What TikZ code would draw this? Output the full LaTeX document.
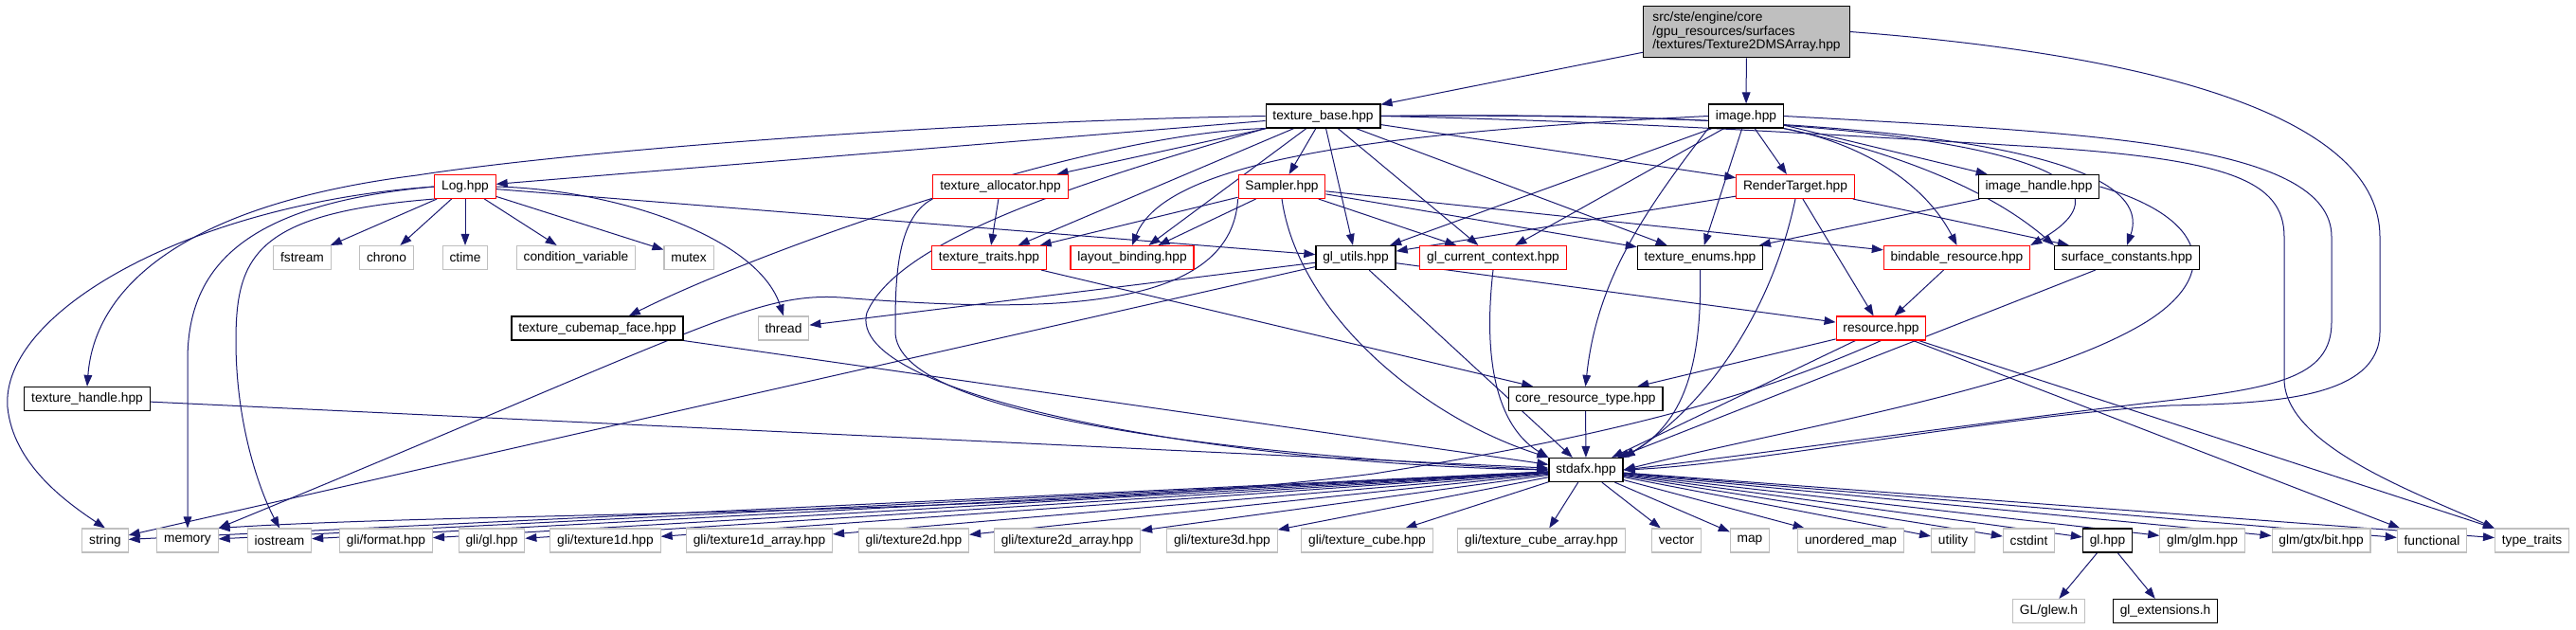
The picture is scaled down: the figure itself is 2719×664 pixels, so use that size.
\documentclass[tikz,border=0pt]{standalone}
\usepackage{fontspec}
\setmainfont{Liberation Sans}
\usetikzlibrary{arrows.meta,backgrounds}

\definecolor{edgeblue}{RGB}{25,25,112}
\definecolor{extgray}{RGB}{191,191,191}
\definecolor{truncred}{RGB}{255,0,0}
\definecolor{mainfill}{RGB}{191,191,191}
\newcommand{\graphfont}{\fontsize{10.3}{10.7}\selectfont}

\tikzset{
  hfile/.style={draw=black, fill=white, line width=0.9pt, minimum height=18.75pt, inner xsep=5.5pt, inner ysep=0pt, font=\graphfont},
  hred/.style={hfile, draw=truncred, line width=0.8pt},
  hext/.style={hfile, draw=extgray, line width=0.8pt},
  hmain/.style={hfile, fill=mainfill, align=left, minimum width=163pt, minimum height=41pt},
  edge/.style={draw=edgeblue, line width=0.75pt, -{Triangle[length=9pt,width=6.5pt]}},
}

\begin{document}
\begin{tikzpicture}[x=0.75pt,y=0.75pt,yscale=-1,xscale=1]
\useasboundingbox (0,0) rectangle (2719,664);

% Main header
\node [hmain] (main) at (1843.5,33.5) {src/ste/engine/core\\/gpu\_resources/surfaces\\/textures/Texture2DMSArray.hpp};

% Row 1
\node [hfile] (tbase) at (1396.5,122.5) {texture\_base.hpp};
\node [hfile] (image) at (1843,122.5) {image.hpp};

% Row 2
\node [hred] (log) at (491,197) {Log.hpp};
\node [hred] (talloc) at (1056,197) {texture\_allocator.hpp};
\node [hred] (sampler) at (1353,197) {Sampler.hpp};
\node [hred] (rtarget) at (1895,197) {RenderTarget.hpp};
\node [hfile] (ihandle) at (2152,197) {image\_handle.hpp};

% Row 3
\node [hext] (fstream) at (319,272) {fstream};
\node [hext] (chrono) at (408,272) {chrono};
\node [hext] (ctime) at (491,272) {ctime};
\node [hext] (condvar) at (608,272) {condition\_variable};
\node [hext] (mutex) at (727,272) {mutex};
\node [hred] (ttraits) at (1044,272) {texture\_traits.hpp};
\node [hred] (lbinding) at (1195,272) {layout\_binding.hpp};
\node [hfile] (glutils) at (1431,272) {gl\_utils.hpp};
\node [hred] (glctx) at (1576,272) {gl\_current\_context.hpp};
\node [hfile] (tenums) at (1794.5,272) {texture\_enums.hpp};
\node [hred] (bindable) at (2065.5,272) {bindable\_resource.hpp};
\node [hfile] (surfconst) at (2245,272) {surface\_constants.hpp};

% Row 4
\node [hfile] (tcube) at (630.5,346.5) {texture\_cubemap\_face.hpp};
\node [hext] (thread) at (827,346.5) {thread};
\node [hred] (resource) at (1985.5,346.5) {resource.hpp};

% Row 5
\node [hfile] (thandle) at (92,421) {texture\_handle.hpp};
\node [hfile] (coretype) at (1673.5,421) {core\_resource\_type.hpp};

% Row 6
\node [hfile] (stdafx) at (1674,496) {stdafx.hpp};

% Row 7
\node [hext] (string) at (111,570.5) {string};
\node [hext] (memory) at (198,570.5) {memory};
\node [hext] (iostream) at (295,570.5) {iostream};
\node [hext] (gliformat) at (407.5,570.5) {gli/format.hpp};
\node [hext] (gligl) at (519,570.5) {gli/gl.hpp};
\node [hext] (glitexa) at (639,570.5) {gli/texture1d.hpp};
\node [hext] (glitexb) at (801.5,570.5) {gli/texture1d\_array.hpp};
\node [hext] (glitexc) at (964.5,570.5) {gli/texture2d.hpp};
\node [hext] (glitexd) at (1126.5,570.5) {gli/texture2d\_array.hpp};
\node [hext] (glitexe) at (1290,570.5) {gli/texture3d.hpp};
\node [hext] (glitexf) at (1443,570.5) {gli/texture\_cube.hpp};
\node [hext] (glitexg) at (1627,570.5) {gli/texture\_cube\_array.hpp};
\node [hext] (vector) at (1769.5,570.5) {vector};
\node [hext] (map) at (1847,570.5) {map};
\node [hext] (umap) at (1953.5,570.5) {unordered\_map};
\node [hext] (utility) at (2061.5,570.5) {utility};
\node [hext] (cstdint) at (2141.5,570.5) {cstdint};
\node [hfile] (glhpp) at (2224.5,570.5) {gl.hpp};
\node [hext] (glmglm) at (2324.5,570.5) {glm/glm.hpp};
\node [hext] (glmbit) at (2450,570.5) {glm/gtx/bit.hpp};
\node [hext] (functional) at (2567,570.5) {functional};
\node [hext] (ttypes) at (2672.5,570.5) {type\_traits};

% Row 8
\node [hext] (glew) at (2162.5,645) {GL/glew.h};
\node [hfile] (glext) at (2285.5,645) {gl\_extensions.h};

\begin{scope}[on background layer]
% main header edges
\draw [edge] (main) -- (tbase) ;
\draw [edge] (main) -- (image) ;
\draw [edge] (main.east) .. controls (2300,60) and (2512,130) .. (2512,250) -- (2512,350) .. controls (2512,420) and (2400,426) .. (2290,428) .. controls (2100,440) and (1850,490) .. (stdafx.east) ;

% texture_base edges
\draw [edge] (tbase) -- (log) ;
\draw [edge] (tbase) -- (talloc) ;
\draw [edge] (tbase) -- (sampler) ;
\draw [edge] (tbase) -- (ttraits) ;
\draw [edge] (tbase) -- (lbinding) ;
\draw [edge] (tbase) -- (glutils) ;
\draw [edge] (tbase) -- (glctx) ;
\draw [edge] (tbase) -- (tenums) ;
\draw [edge] (tbase) -- (rtarget) ;
\draw [edge] (tbase.west) .. controls (1000,128) and (600,160) .. (440,185) .. controls (200,215) and (100,300) .. (thandle.north) ;
\draw [edge] (tbase.south west) .. controls (1150,140) and (800,265) .. ([xshift=25pt]tcube.north) ;
\draw [edge] (tbase.south west) .. controls (1150,190) and (950,250) .. (915,330) .. controls (890,420) and (1300,490) .. (stdafx.west) ;
\draw [edge] (tbase.east) .. controls (2000,115) and (2300,170) .. (bindable.north east) ;
\draw [edge] (tbase.east) .. controls (2000,118) and (2280,160) .. (surfconst.north) ;
\draw [edge] (tbase.east) .. controls (1700,128) and (1900,140) .. (2150,155) .. controls (2350,168) and (2411,190) .. (2411,250) -- (2411,400) .. controls (2411,470) and (2550,520) .. (ttypes.north west) ;

% image edges
\draw [edge] (image) -- (rtarget) ;
\draw [edge] (image) -- (ihandle) ;
\draw [edge] (image) -- (glutils) ;
\draw [edge] (image) -- (glctx) ;
\draw [edge] (image) -- (tenums) ;
\draw [edge] (image.west) .. controls (1450,140) and (1230,170) .. (lbinding.north) ;
\draw [edge] (image.south west) .. controls (1730,230) and (1685,300) .. (coretype.north) ;
\draw [edge] (image.south east) .. controls (1960,150) and (2030,190) .. (bindable.north) ;
\draw [edge] (image.south east) .. controls (2000,160) and (2100,200) .. (surfconst.north west) ;
\draw [edge] (image.east) .. controls (2200,140) and (2461,150) .. (2461,250) -- (2461,340) .. controls (2461,400) and (2400,410) .. (2270,425) .. controls (2100,445) and (1850,480) .. (stdafx.east) ;

% Log edges
\draw [edge] (log) -- (fstream) ;
\draw [edge] (log) -- (chrono) ;
\draw [edge] (log) -- (ctime) ;
\draw [edge] (log) -- (condvar) ;
\draw [edge] (log) -- (mutex) ;
\draw [edge] (log) -- (glutils) ;
\draw [edge] (log.east) .. controls (650,200) and (800,250) .. (thread.north) ;
\draw [edge] (log.west) .. controls (200,215) and (0,330) .. (8,430) .. controls (14,490) and (70,530) .. (string.north) ;
\draw [edge] (log.west) .. controls (260,215) and (198,280) .. (198,380) -- (memory.north) ;
\draw [edge] (log.south west) .. controls (270,225) and (249,270) .. (249,360) .. controls (249,450) and (275,520) .. (iostream.north) ;

% texture_allocator and Sampler edges
\draw [edge] (talloc) -- (ttraits) ;
\draw [edge] (talloc.south west) .. controls (945,230) and (945,300) .. (945,350) .. controls (945,440) and (1300,480) .. (stdafx.west) ;
\draw [edge] (sampler) -- (ttraits) ;
\draw [edge] (sampler) -- (lbinding) ;
\draw [edge] (sampler) -- (glctx) ;
\draw [edge] (sampler) -- (tenums) ;
\draw [edge] (sampler) -- (bindable) ;
\draw [edge] (sampler.south) .. controls (1370,330) and (1500,440) .. (stdafx.north west) ;
\draw [edge] (sampler.south west) .. controls (1300,330) and (1100,330) .. (900,315) .. controls (800,305) and (760,340) .. (memory.north east) ;

% RenderTarget and image_handle edges
\draw [edge] (rtarget) -- (glutils) ;
\draw [edge] (rtarget) -- (surfconst) ;
\draw [edge] (rtarget) -- (resource) ;
\draw [edge] (rtarget.south) .. controls (1870,330) and (1800,430) .. (stdafx.north east) ;
\draw [edge] (ihandle) -- (tenums) ;
\draw [edge] (ihandle.east) .. controls (2330,230) and (2345,290) .. (2265,340) .. controls (2150,410) and (1900,450) .. (stdafx.east) ;

% third row edges
\draw [edge] (ttraits) -- (coretype) ;
\draw [edge] (glutils) -- (thread) ;
\draw [edge] (glutils) -- (string) ;
\draw [edge] (glutils) -- (resource) ;
\draw [edge] (glutils) -- (stdafx) ;
\draw [edge] (glctx.south) .. controls (1565,380) and (1580,450) .. (stdafx.north west) ;
\draw [edge] (tenums.south) .. controls (1797,400) and (1770,450) .. (stdafx.north east) ;
\draw [edge] (bindable) -- (resource) ;
\draw [edge] (surfconst) -- (stdafx) ;

% fourth and fifth row edges
\draw [edge] (tcube) -- (stdafx) ;
\draw [edge] (resource) -- (coretype) ;
\draw [edge] (resource) -- (stdafx) ;
\draw [edge] (resource) -- (functional) ;
\draw [edge] (resource) -- (ttypes) ;
\draw [edge] (resource.south) .. controls (1850,420) and (1700,460) .. (1450,500) .. controls (1100,545) and (500,540) .. (memory.north east) ;
\draw [edge] (thandle) -- (stdafx) ;
\draw [edge] (coretype) -- (stdafx) ;

% stdafx edges
\draw [edge] (stdafx) -- (string) ;
\draw [edge] (stdafx) -- (memory) ;
\draw [edge] (stdafx) -- (iostream) ;
\draw [edge] (stdafx) -- (gliformat) ;
\draw [edge] (stdafx) -- (gligl) ;
\draw [edge] (stdafx) -- (glitexa) ;
\draw [edge] (stdafx) -- (glitexb) ;
\draw [edge] (stdafx) -- (glitexc) ;
\draw [edge] (stdafx) -- (glitexd) ;
\draw [edge] (stdafx) -- (glitexe) ;
\draw [edge] (stdafx) -- (glitexf) ;
\draw [edge] (stdafx) -- (glitexg) ;
\draw [edge] (stdafx) -- (vector) ;
\draw [edge] (stdafx) -- (map) ;
\draw [edge] (stdafx) -- (umap) ;
\draw [edge] (stdafx) -- (utility) ;
\draw [edge] (stdafx) -- (cstdint) ;
\draw [edge] (stdafx) -- (glhpp) ;
\draw [edge] (stdafx) -- (glmglm) ;
\draw [edge] (stdafx) -- (glmbit) ;
\draw [edge] (stdafx) -- (functional) ;
\draw [edge] (stdafx) -- (ttypes) ;

% gl.hpp edges
\draw [edge] (glhpp) -- (glew) ;
\draw [edge] (glhpp) -- (glext) ;
\end{scope}

\end{tikzpicture}
\end{document}
